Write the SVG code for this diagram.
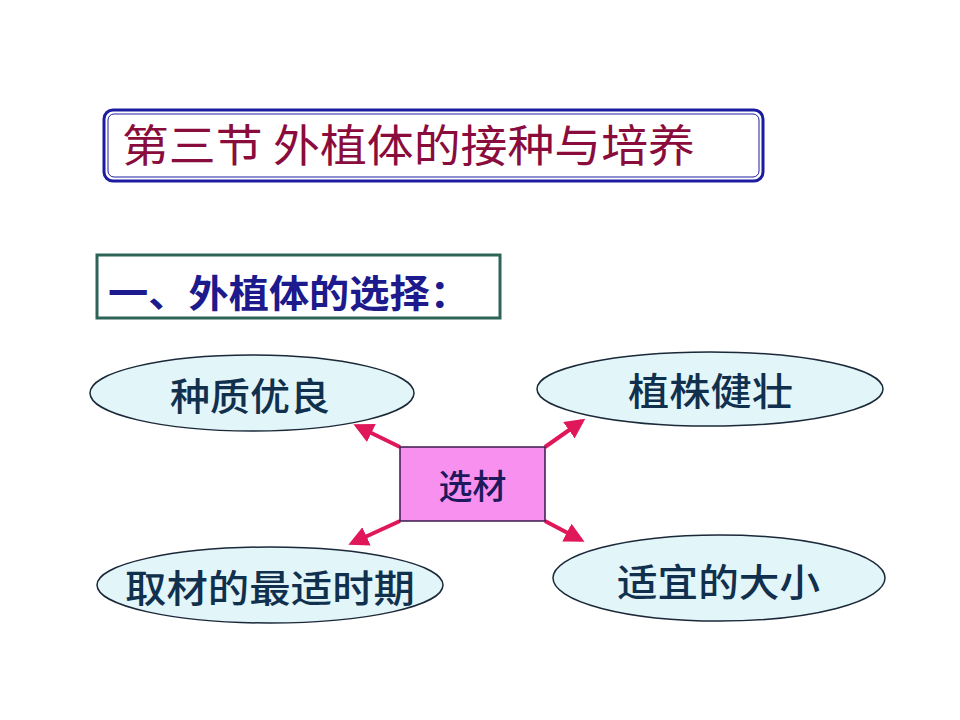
<svg xmlns="http://www.w3.org/2000/svg" width="960" height="720" viewBox="0 0 960 720">
<defs>
<style>
.cjk{font-family:"Noto Sans CJK SC","Noto Sans CJK JP",sans-serif;}
.ell{fill:#e2f5f8;stroke:#1a2838;stroke-width:1.5;}
.etxt{fill:#10304e;font-size:38px;font-weight:500;}
.arr{stroke:#e0185a;stroke-width:4;fill:none;marker-end:url(#ah);}
</style>
<marker id="ah" viewBox="0 0 10 10" refX="8" refY="5" markerWidth="5" markerHeight="5" orient="auto" markerUnits="strokeWidth">
<path d="M0,0 L10,5 L0,10 Z" fill="#e0185a"/>
</marker>
</defs>
<rect width="960" height="720" fill="#ffffff"/>
<g id="title">
<rect x="104" y="110" width="659" height="71" rx="9" fill="#ffffff" stroke="#1c1ca0" stroke-width="3"/>
<rect x="108" y="114" width="651" height="63" rx="6" fill="none" stroke="#1c1ca0" stroke-width="1"/>
<text class="cjk" x="122" y="162" font-size="44" fill="#8a0c3c" textLength="573" lengthAdjust="spacingAndGlyphs">第三节 外植体的接种与培养</text>
</g>
<g id="subtitle">
<rect x="97" y="255" width="403" height="63" fill="#ffffff" stroke="#2e6458" stroke-width="3"/>
<text class="cjk" x="108" y="307" font-size="38" font-weight="bold" fill="#1c1a8c" textLength="362" lengthAdjust="spacingAndGlyphs">一、外植体的选择：</text>
</g>
<g id="connectors">
<line class="arr" x1="400" y1="447" x2="357" y2="426"/>
<line class="arr" x1="545" y1="447" x2="582" y2="421"/>
<line class="arr" x1="400" y1="521" x2="352" y2="543"/>
<line class="arr" x1="545" y1="521" x2="581" y2="540"/>
</g>
<g id="n1">
<ellipse class="ell" cx="252" cy="393" rx="162" ry="38"/>
<text class="cjk etxt" x="170" y="410" textLength="160" lengthAdjust="spacingAndGlyphs">种质优良</text>
</g>
<g id="n2">
<ellipse class="ell" cx="710" cy="389" rx="173" ry="37"/>
<text class="cjk etxt" x="628" y="405" textLength="165" lengthAdjust="spacingAndGlyphs">植株健壮</text>
</g>
<g id="n3">
<ellipse class="ell" cx="270" cy="585" rx="173" ry="38"/>
<text class="cjk etxt" x="125" y="602" textLength="290" lengthAdjust="spacingAndGlyphs">取材的最适时期</text>
</g>
<g id="n4">
<ellipse class="ell" cx="719" cy="578" rx="166" ry="43"/>
<text class="cjk etxt" x="617" y="596" textLength="203" lengthAdjust="spacingAndGlyphs">适宜的大小</text>
</g>
<g id="center">
<rect x="400" y="447" width="145" height="74" fill="#f890f0" stroke="#3a1a4a" stroke-width="1.5"/>
<text class="cjk" x="472.5" y="499" font-size="34" font-weight="500" fill="#1c1a5c" text-anchor="middle">选材</text>
</g>
</svg>
